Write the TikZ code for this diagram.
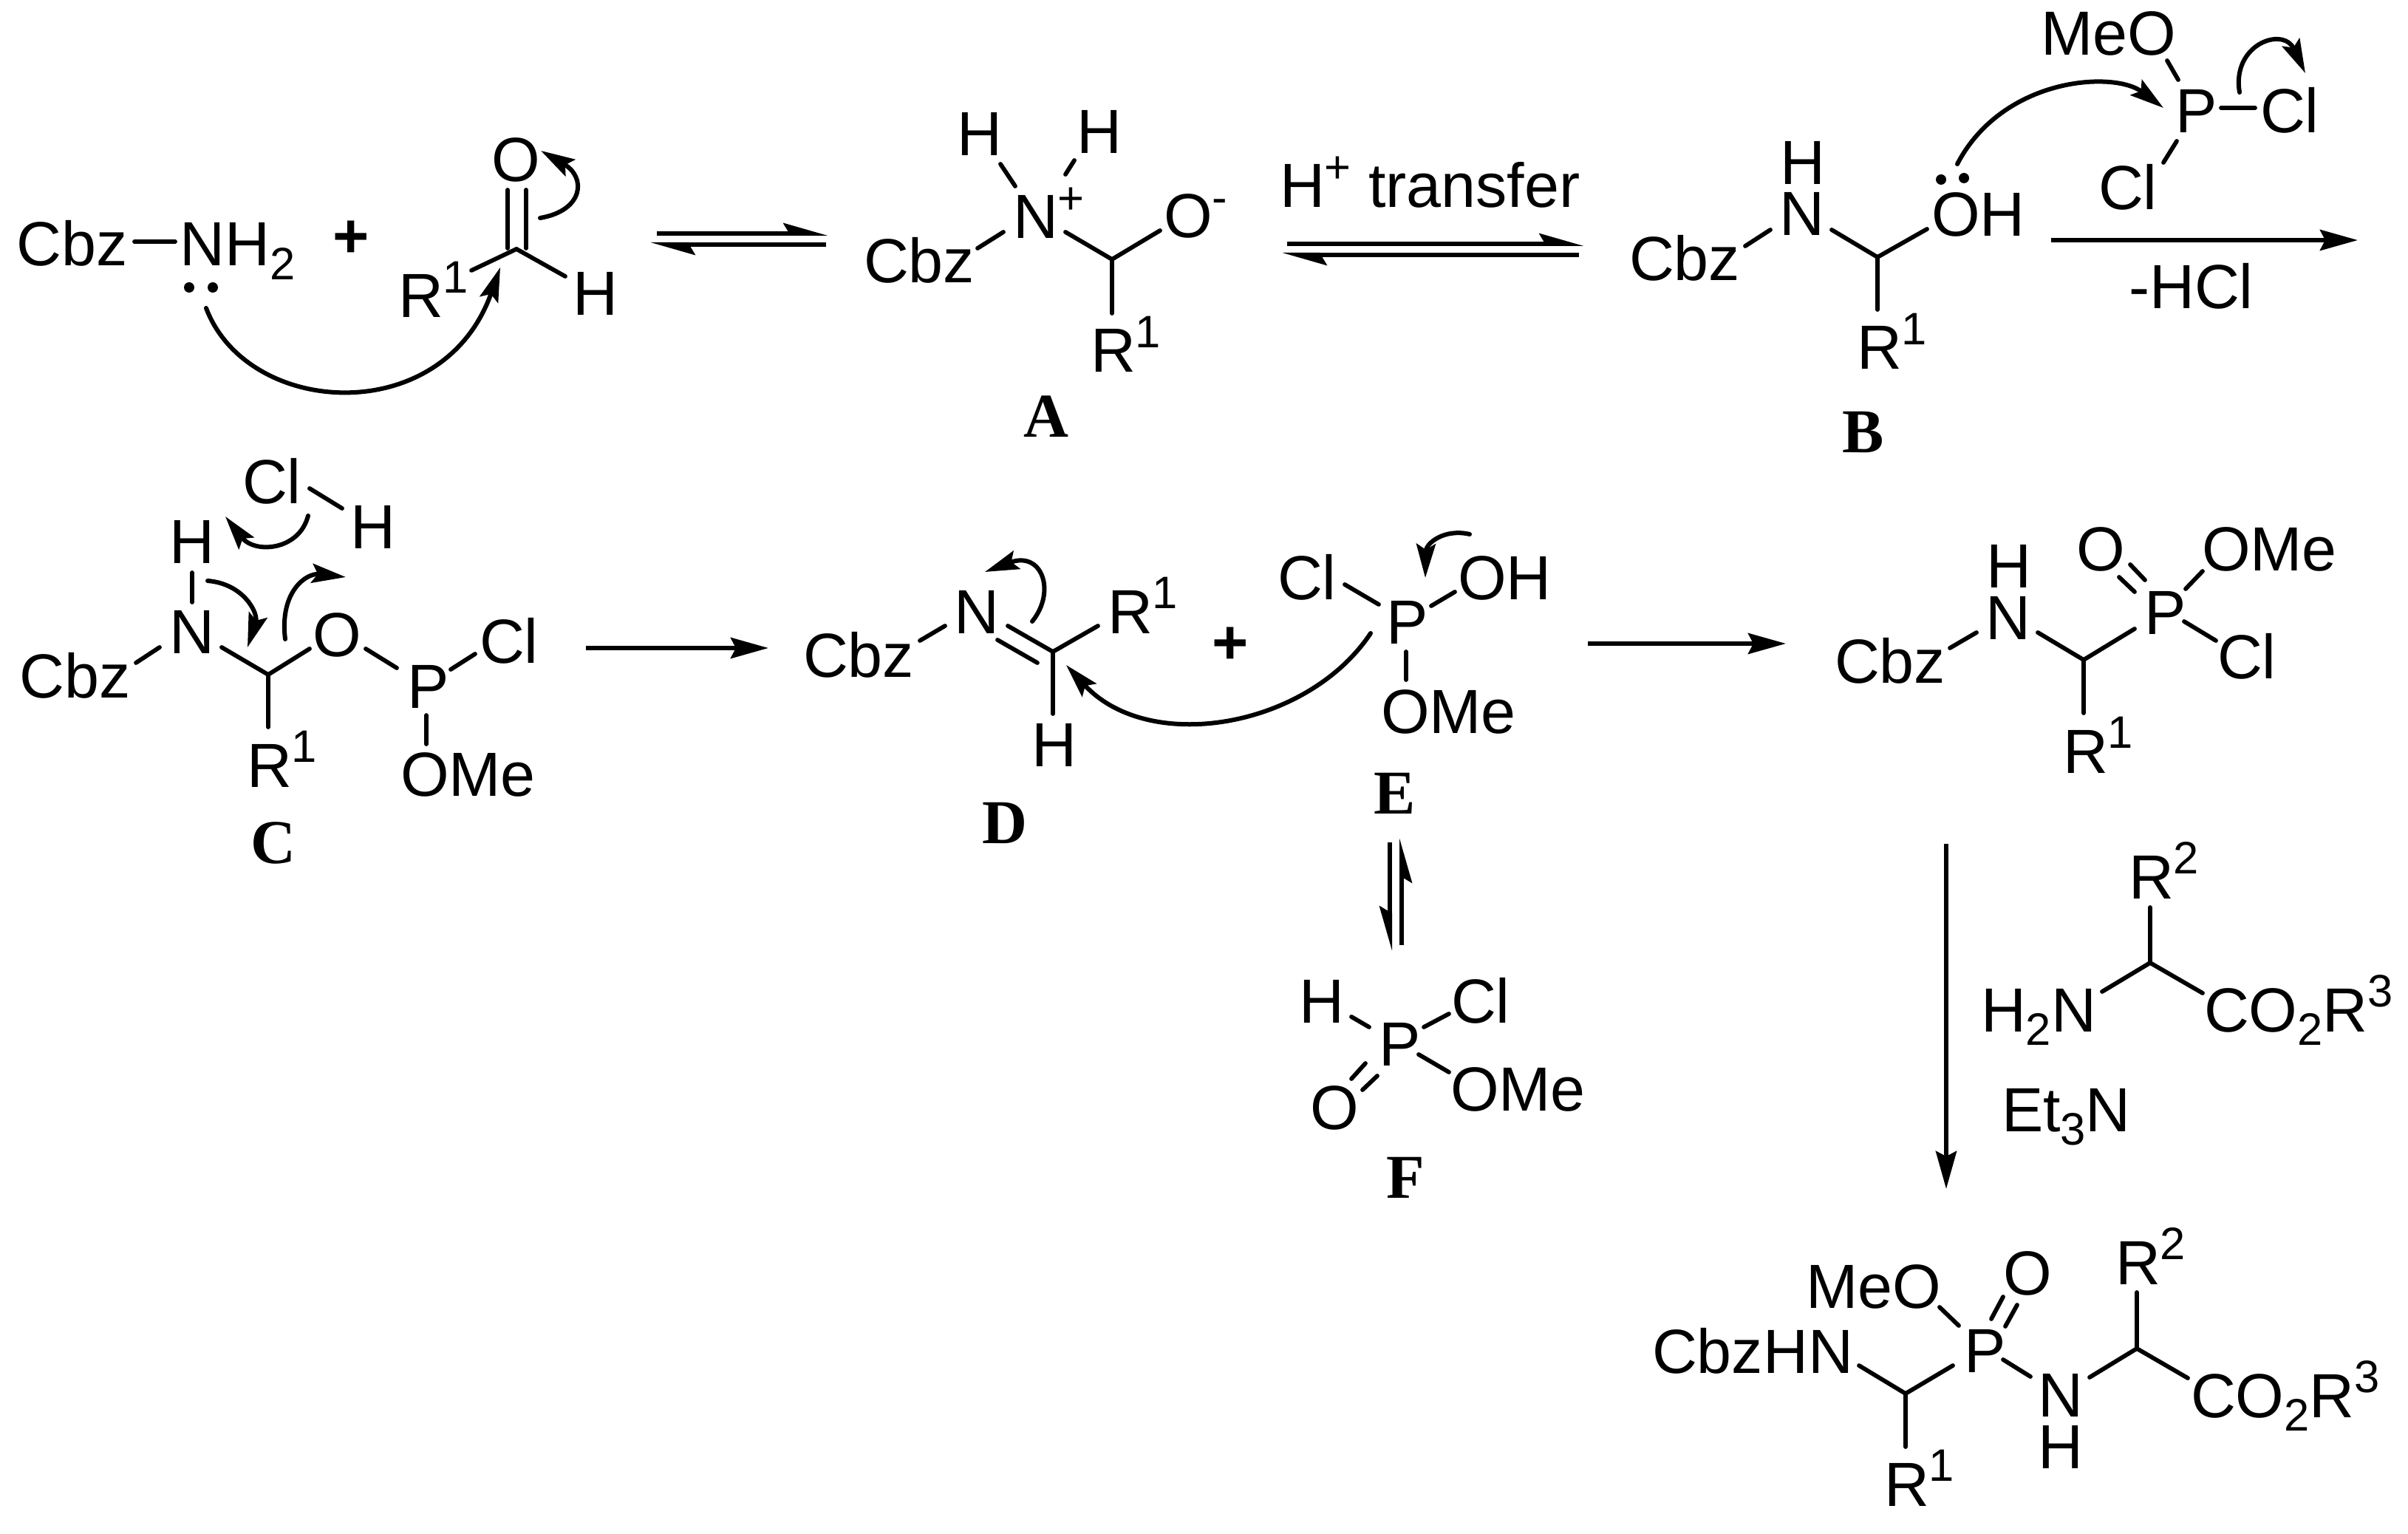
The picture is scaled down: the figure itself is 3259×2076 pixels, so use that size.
\documentclass[tikz,border=0pt]{standalone}
\usepackage{fontspec}
\setmainfont{Liberation Sans}
\newfontfamily\lblfam{Liberation Serif}
\usetikzlibrary{arrows.meta}
\newcommand{\myb}[1]{\raisebox{-0.18cm}{\fontsize{17.5}{17.5}\selectfont #1}}
\newcommand{\myp}[1]{\raisebox{0.33cm}{\fontsize{17.5}{17.5}\selectfont #1}}
\newcommand{\atm}[3]{\node[atom] (#1) at (#2) {#3};}
\newcommand{\lbl}[3]{\node[cmpd] (#1) at (#2) {#3};}
\newcommand{\bnd}[4][bondline]{\coordinate (#2a) at (#3); \coordinate (#2b) at (#4); \draw[#1] (#2a) -- (#2b);}
\newcommand{\crv}[5]{\coordinate (#1a) at (#2); \coordinate (#1b) at (#5); \draw[curly] (#1a) .. controls (#3) and (#4) .. (#1b);}
\tikzset{
  atom/.style={anchor=base west,inner sep=0pt,outer sep=0pt,xshift=-0.05cm,font=\fontsize{24}{28}\selectfont},
  plussign/.style={anchor=base,inner sep=0pt,outer sep=0pt,font=\fontsize{24}{28}\selectfont\bfseries},
  cmpd/.style={anchor=base,inner sep=0pt,outer sep=0pt,font=\fontsize{24}{28}\selectfont\lblfam\bfseries},
  bondline/.style={line width=0.058cm,line cap=round},
  rxn/.style={line width=0.06cm,-{Stealth[length=0.51cm,width=0.28cm,inset=0.07cm]}},
  eqL/.style={line width=0.06cm,-{Stealth[left,length=0.5cm,width=0.28cm,inset=0.08cm]}},
  eqR/.style={line width=0.06cm,-{Stealth[right,length=0.5cm,width=0.28cm,inset=0.08cm]}},
  curly/.style={line width=0.06cm,line cap=round,-{Stealth[length=0.46cm,width=0.26cm,inset=0.08cm]}},
  lp/.style={fill=black}
}
\begin{document}
\begin{tikzpicture}[x=0.01cm,y=-0.01cm]
\useasboundingbox (0,0) rectangle (3259,2076);
% ---- Cbz-NH2 + aldehyde
\atm{cbzS}{28,360}{Cbz}
\atm{nhS}{249,360}{NH\myb{2}}
\bnd{bS}{182,327}{237,327}
\fill[lp] (256,389) circle (7);
\fill[lp] (288,389) circle (7);
\node[plussign] (plusA) at (475,349) {+};
\atm{oAld}{670,246}{O}
\atm{hAld}{780,427}{H}
\atm{rAld}{544,430}{R\myp{1}}
\coordinate (cAld) at (699,337);
\coordinate (cAldR) at (638,366);
\coordinate (cAldH) at (765,374);
\bnd{bAldO}{687,257}{687,336}
\bnd{bAldOb}{712,257}{712,336}
\draw[bondline] (cAld) -- (cAldR);
\draw[bondline] (cAld) -- (cAldH);
\crv{cvAldO}{731,295}{790,285}{794,240}{732,204}
\crv{cvAld}{279,417}{335,565}{600,581}{677,362}
\bnd[eqL]{eqAu}{889,316}{1121,316}
\bnd[eqL]{eqAl}{1118,331}{880,331}
% ---- A
\atm{hA1}{1300,211}{H}
\atm{hA2}{1462,208}{H}
\atm{nA}{1376,323}{N\myp{+}}
\atm{cbzA}{1174,383}{Cbz}
\atm{oA}{1580,322}{O\myp{-}}
\atm{rA}{1481,504}{R\myp{1}}
\lbl{lblA}{1416,592}{A}
\bnd{bA1}{1354,222}{1374,252}
\bnd{bA2}{1454,217}{1442,236}
\bnd{bA3}{1323,336}{1358,314}
\bnd{bA4}{1442,314}{1505,351}
\bnd{bA5}{1505,351}{1570,312}
\bnd{bA6}{1505,351}{1505,424}
\atm{hTrans}{1737,281}{H\myp{+} transfer}
\bnd[eqL]{eqBu}{1742,330}{2144,330}
\bnd[eqL]{eqBl}{2137,345}{1735,345}
% ---- B
\atm{hB}{2414,250}{H}
\atm{nB}{2413,319}{N}
\atm{ohB}{2619,320}{OH}
\atm{cbzB}{2210,380}{Cbz}
\atm{rB}{2518,500}{R\myp{1}}
\lbl{lblB}{2522,613}{B}
\fill[lp] (2627,243) circle (7);
\fill[lp] (2658,241) circle (7);
\bnd{bB1}{2362,333}{2396,311}
\bnd{bB2}{2479,311}{2541,348}
\bnd{bB3}{2541,348}{2608,310}
\bnd{bB4}{2541,348}{2541,419}
\atm{meoB}{2767,75}{MeO}
\atm{pB}{2949,180}{P}
\atm{clB1}{3064,180}{Cl}
\atm{clB2}{2845,284}{Cl}
\bnd{bB5}{2933,82}{2948,108}
\bnd{bB6}{3006,146}{3052,146}
\bnd{bB7}{2946,191}{2928,220}
\crv{cvB1}{3031,125}{3020,60}{3090,35}{3120,99}
\crv{cvB2}{2649,222}{2710,105}{2860,95}{2928,146}
\bnd[rxn]{arB}{2776,325}{3191,325}
\atm{hcl}{2886,418}{-HCl}
% ---- C
\atm{clC1}{333,682}{Cl}
\atm{hC1}{479,742}{H}
\atm{hC2}{235,763}{H}
\atm{nC}{235,884}{N}
\atm{cbzC}{32,944}{Cbz}
\atm{oC}{428,888}{O}
\atm{pC}{556,958}{P}
\atm{clC2}{654,897}{Cl}
\atm{omeC}{547,1077}{OMe}
\atm{rC}{339,1065}{R\myp{1}}
\lbl{lblC}{370,1168}{C}
\bnd{bC1}{419,661}{463,688}
\bnd{bC2}{260,775}{260,815}
\bnd{bC3}{184,897}{216,876}
\bnd{bC4}{300,876}{363,913}
\bnd{bC5}{363,913}{419,878}
\bnd{bC6}{363,913}{363,984}
\bnd{bC7}{495,878}{537,904}
\bnd{bC8}{610,906}{643,885}
\bnd{bC9}{577,968}{577,1007}
\crv{cvC1}{417,698}{405,745}{345,750}{305,699}
\crv{cvC2}{281,786}{330,790}{350,830}{335,876}
\crv{cvC3}{386,865}{378,800}{415,775}{468,781}
\bnd[rxn]{arC}{793,877}{1040,877}
% ---- D
\atm{cbzD}{1092,916}{Cbz}
\atm{nD}{1296,857}{N}
\atm{rD}{1504,857}{R\myp{1}}
\atm{hD}{1401,1037}{H}
\lbl{lblD}{1360,1141}{D}
\bnd{bD1}{1245,867}{1279,847}
\bnd{bD2}{1364,847}{1425,882}
\bnd{bD3}{1350,866}{1404,897}
\bnd{bD4}{1425,882}{1486,847}
\bnd{bD5}{1425,882}{1425,966}
\crv{cvD1}{1397,841}{1430,800}{1410,745}{1333,774}
\crv{cvD2}{1855,857}{1770,985}{1555,1022}{1443,900}
\node[plussign] (plusD) at (1665,899) {+};
% ---- E
\atm{clE}{1734,811}{Cl}
\atm{pE}{1881,871}{P}
\atm{ohE}{1978,811}{OH}
\atm{omeE}{1874,992}{OMe}
\lbl{lblE}{1888,1101}{E}
\bnd{bE1}{1820,791}{1866,818}
\bnd{bE2}{1937,820}{1969,801}
\bnd{bE3}{1903,882}{1903,920}
\crv{cvE}{1989,723}{1955,715}{1930,735}{1929,782}
\bnd[eqR]{eqCu}{1897,1279}{1897,1134}
\bnd[eqR]{eqCd}{1881,1140}{1881,1287}
% ---- F
\atm{hF}{1763,1384}{H}
\atm{clF}{1969,1384}{Cl}
\atm{pF}{1871,1442}{P}
\atm{omeF}{1968,1503}{OMe}
\atm{oF}{1778,1528}{O}
\lbl{lblF}{1902,1621}{F}
\bnd{bF1}{1829,1376}{1853,1390}
\bnd{bF2}{1927,1390}{1961,1372}
\bnd{bF3}{1920,1427}{1961,1451}
\bnd{bF4}{1848,1439}{1829,1460}
\bnd{bF5}{1864,1456}{1844,1475}
\bnd[rxn]{arE}{2149,871}{2417,871}
% ---- phosphonyl chloride
\atm{cbzG}{2488,925}{Cbz}
\atm{nG}{2692,865}{N}
\atm{hG}{2693,795}{H}
\atm{pG}{2907,858}{P}
\atm{oG}{2815,772}{O}
\atm{omeG}{2985,772}{OMe}
\atm{clG}{3006,918}{Cl}
\atm{rG}{2797,1046}{R\myp{1}}
\bnd{bG1}{2639,877}{2675,856}
\bnd{bG2}{2758,856}{2820,893}
\bnd{bG3}{2820,893}{2889,851}
\bnd{bG4}{2820,893}{2820,965}
\bnd{bG5}{2903,785}{2883,764}
\bnd{bG6}{2889,801}{2868,781}
\bnd{bG7}{2958,797}{2981,773}
\bnd{bG8}{2956,841}{2999,867}
\bnd[rxn]{arG}{2634,1142}{2634,1609}
% ---- amino ester
\atm{rH}{2886,1216}{R\myp{2}}
\atm{h2n}{2686,1396}{H\myb{2}N}
\atm{co2}{2988,1396}{CO\myb{2}R\myp{3}}
\atm{et3n}{2714,1531}{Et\myb{3}N}
\bnd{bH1}{2910,1228}{2910,1303}
\bnd{bH2}{2910,1303}{2845,1342}
\bnd{bH3}{2910,1303}{2981,1344}
% ---- product
\atm{meoP}{2449,1770}{MeO}
\atm{oP}{2716,1752}{O}
\atm{pP}{2663,1857}{P}
\atm{cbzP}{2241,1858}{CbzHN}
\atm{r1P}{2555,2038}{R\myp{1}}
\atm{nP}{2763,1917}{N}
\atm{hP}{2763,1987}{H}
\atm{r2P}{2868,1738}{R\myp{2}}
\atm{co2P}{2970,1918}{CO\myb{2}R\myp{3}}
\bnd{bP1}{2625,1769}{2651,1794}
\bnd{bP2}{2695,1785}{2711,1755}
\bnd{bP3}{2714,1795}{2730,1766}
\bnd{bP4}{2516,1848}{2579,1886}
\bnd{bP5}{2579,1886}{2643,1848}
\bnd{bP6}{2579,1886}{2579,1958}
\bnd{bP7}{2711,1840}{2748,1863}
\bnd{bP8}{2828,1864}{2892,1825}
\bnd{bP9}{2892,1825}{2892,1749}
\bnd{bP10}{2892,1825}{2961,1865}
\end{tikzpicture}
\end{document}
